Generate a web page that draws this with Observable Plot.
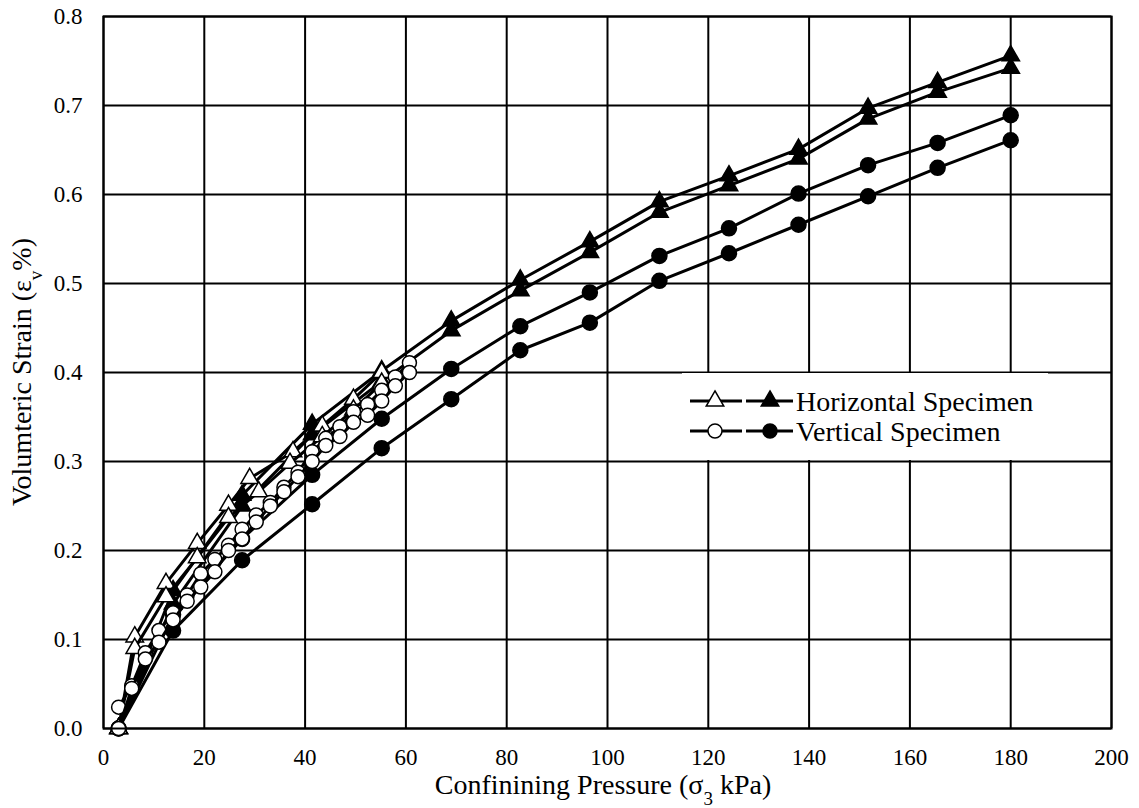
<!DOCTYPE html>
<html>
<head>
<meta charset="utf-8">
<script src="https://cdn.jsdelivr.net/npm/d3@7"></script>
<script src="https://cdn.jsdelivr.net/npm/@observablehq/plot@0.6"></script>
<style>
  html, body { margin: 0; padding: 0; background: #fff; }
  #chart { width: 1139px; height: 808px; }
  #chart svg, #chart svg text, #chart svg tspan {
    font-family: "Liberation Serif", "Times New Roman", Times, "DejaVu Serif", serif !important;
  }
</style>
</head>
<body>
<div id="chart"></div>
<script>
// ---- data ----
const xTicks = [0, 20, 40, 60, 80, 100, 120, 140, 160, 180, 200];
const yTicks = [0, 0.1, 0.2, 0.3, 0.4, 0.5, 0.6, 0.7, 0.8];

// filled-marker series (coarse pressure steps)
const stepX = [3, 13.8, 27.5, 41.4, 55.2, 69.0, 82.7, 96.5, 110.3, 124.1, 137.9, 151.7, 165.5, 180];
const horizFilledA = [0, 0.155, 0.262, 0.342, 0.402, 0.458, 0.504, 0.547, 0.592, 0.621, 0.651, 0.697, 0.726, 0.756];
const horizFilledB = [0, 0.140, 0.250, 0.330, 0.390, 0.447, 0.492, 0.535, 0.580, 0.610, 0.640, 0.685, 0.715, 0.742];
const vertFilledA  = [0, 0.128, 0.213, 0.285, 0.348, 0.404, 0.452, 0.490, 0.531, 0.562, 0.601, 0.633, 0.658, 0.689];
const vertFilledB  = [0, 0.110, 0.189, 0.252, 0.315, 0.370, 0.425, 0.456, 0.503, 0.534, 0.566, 0.598, 0.630, 0.661];

// open triangles (horizontal specimen, fine steps)
const horizOpenAX = [3, 6.2, 12.4, 18.6, 24.8, 29.0, 37.6, 43.4, 49.6, 55.2];
const horizOpenA  = [0, 0.103, 0.163, 0.208, 0.251, 0.281, 0.311, 0.340, 0.370, 0.400];
const horizOpenBX = [3, 6.2, 12.4, 18.6, 24.8, 30.8, 37.0, 43.4, 49.6, 55.2];
const horizOpenB  = [0, 0.090, 0.148, 0.192, 0.237, 0.266, 0.298, 0.328, 0.358, 0.388];

// open circles (vertical specimen, fine steps)
const vertOpenX = [3, 5.6, 8.3, 11.0, 13.8, 16.6, 19.3, 22.1, 24.8, 27.5, 30.3, 33.1, 35.8, 38.6, 41.4, 44.1, 46.9, 49.6, 52.4, 55.2, 57.9, 60.7];
const vertOpenA = [0.024, 0.048, 0.085, 0.110, 0.130, 0.150, 0.174, 0.190, 0.206, 0.224, 0.240, 0.254, 0.271, 0.288, 0.311, 0.326, 0.339, 0.356, 0.364, 0.380, 0.395, 0.411];
const vertOpenB = [0, 0.045, 0.078, 0.097, 0.122, 0.143, 0.159, 0.176, 0.200, 0.213, 0.232, 0.250, 0.266, 0.283, 0.300, 0.318, 0.328, 0.344, 0.352, 0.368, 0.385, 0.400];

const legendLabels = ["Horizontal Specimen", "Vertical Specimen"];

// ---- build tables ----
function rows(xs, ys) { return xs.map((x, i) => ({x, y: ys[i]})); }
const hfA = rows(stepX, horizFilledA), hfB = rows(stepX, horizFilledB);
const vfA = rows(stepX, vertFilledA),  vfB = rows(stepX, vertFilledB);
const hoA = rows(horizOpenAX, horizOpenA), hoB = rows(horizOpenBX, horizOpenB);
const voA = rows(vertOpenX, vertOpenA), voB = rows(vertOpenX, vertOpenB);

const LW = 3;
function seriesMarks(data, symbol, fill, r) {
  return [
    Plot.line(data, {x: "x", y: "y", stroke: "black", strokeWidth: LW}),
    Plot.dot(data, {x: "x", y: "y", symbol, r, fill, stroke: "black", strokeWidth: 1.5})
  ];
}

const font = "Liberation Serif, Times New Roman, Times, DejaVu Serif, serif";

const plot = Plot.plot({
  width: 1139,
  height: 808,
  marginLeft: 103,
  marginRight: 28,
  marginTop: 16,
  marginBottom: 80,
  style: {fontFamily: font, fontSize: "23px", background: "white", color: "black"},
  x: {domain: [0, 200], ticks: xTicks},
  y: {domain: [0, 0.8], ticks: yTicks},
  marks: [
    Plot.gridX(xTicks, {stroke: "black", strokeOpacity: 1, strokeWidth: 2}),
    Plot.gridY(yTicks, {stroke: "black", strokeOpacity: 1, strokeWidth: 2}),
    Plot.axisX(xTicks, {tickSize: 0, tickPadding: 20, fontSize: 23, label: null, tickFormat: d3.format("d")}),
    Plot.axisY(yTicks, {tickSize: 0, tickPadding: 21, fontSize: 23, label: null, tickFormat: d3.format(".1f")}),
    ...seriesMarks(hfA, "triangle", "black", 6.5),
    ...seriesMarks(hfB, "triangle", "black", 6.5),
    ...seriesMarks(vfA, "circle", "black", 7.5),
    ...seriesMarks(vfB, "circle", "black", 7.5),
    ...seriesMarks(hoA, "triangle", "white", 6.5),
    ...seriesMarks(hoB, "triangle", "white", 6.5),
    ...seriesMarks(voA, "circle", "white", 7),
    ...seriesMarks(voB, "circle", "white", 7),
    Plot.frame({stroke: "black", strokeWidth: 2})
  ]
});

document.getElementById("chart").appendChild(plot);

// ---- axis titles with subscripts ----
const svg = d3.select(plot);
const xt = svg.append("text")
  .attr("x", 603).attr("y", 794)
  .attr("text-anchor", "middle")
  .attr("font-size", 28).attr("fill", "black");
xt.append("tspan").text("Confinining Pressure (σ");
xt.append("tspan").attr("baseline-shift", "sub").attr("font-size", 19).text("3");
xt.append("tspan").text(" kPa)");

const yt = svg.append("text")
  .attr("transform", "translate(31,372) rotate(-90)")
  .attr("text-anchor", "middle")
  .attr("font-size", 28).attr("fill", "black");
yt.append("tspan").text("Volumteric Strain (ε");
yt.append("tspan").attr("baseline-shift", "sub").attr("font-size", 19).text("v");
yt.append("tspan").text("%)");

// ---- legend ----
const lg = svg.append("g");
lg.append("rect").attr("x", 682).attr("y", 373).attr("width", 366).attr("height", 87).attr("fill", "white");
const legendRows = [
  {y: 401, sym: d3.symbolTriangle, size: Math.PI * 6.5 * 6.5, label: legendLabels[0]},
  {y: 431, sym: d3.symbolCircle, size: Math.PI * 7 * 7, label: legendLabels[1]}
];
legendRows.forEach(row => {
  [[690, 742, 715, "white"], [746, 793, 770, "black"]].forEach(([x0, x1, cx, fill]) => {
    lg.append("line").attr("x1", x0).attr("x2", x1).attr("y1", row.y).attr("y2", row.y)
      .attr("stroke", "black").attr("stroke-width", LW);
    lg.append("path").attr("d", d3.symbol(row.sym, row.size)())
      .attr("transform", `translate(${cx},${row.y})`)
      .attr("fill", fill).attr("stroke", "black").attr("stroke-width", 1.5);
  });
  lg.append("text").attr("x", 796).attr("y", row.y).attr("dy", "0.35em")
    .attr("text-anchor", "start")
    .attr("font-size", 28).attr("fill", "black")
    .text(row.label);
});
</script>
</body>
</html>
